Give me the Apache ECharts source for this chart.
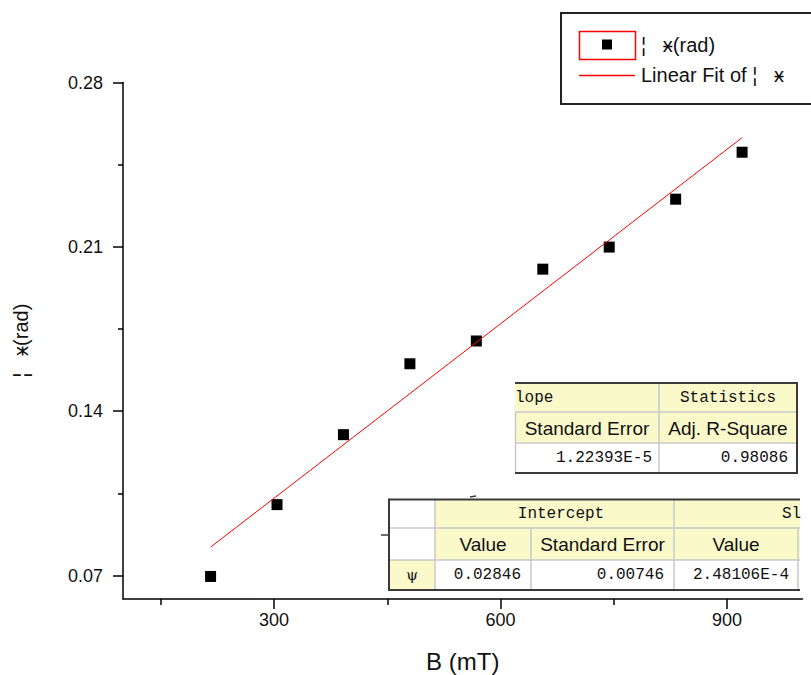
<!DOCTYPE html>
<html><head><meta charset="utf-8">
<script src="https://cdn.jsdelivr.net/npm/echarts@6/dist/echarts.min.js"></script>
<style>html,body{margin:0;padding:0;background:#fff}#c{width:811px;height:675px}</style>
</head><body><div id="c"></div>
<script>
// ---- data ----
const fieldB = [216, 304, 392, 480, 568, 656, 744, 832, 920];
const phi = [0.0696, 0.1002, 0.1300, 0.1602, 0.1699, 0.2005, 0.2099, 0.2303, 0.2503];
const fitB = [216, 920];
const fitPhi = [0.0821, 0.2565];
const xMajorTicks = [300, 600, 900];
const xMinorTicks = [150, 450, 750];
const yMajorTicks = [0.07, 0.14, 0.21, 0.28];
const yMinorTicks = [0.105, 0.175, 0.245];
const seriesNames = ['¦   ӿ(rad)', 'Linear Fit of ¦   ӿ'];
const xTitle = 'B (mT)';
const yTitle = '¦   ӿ(rad)';
const statsHeader = ['lope', 'Statistics'];
const statsSub = ['Standard Error', 'Adj. R-Square'];
const statsValues = ['1.22393E-5', '0.98086'];
const paramHeader = ['Intercept', 'Sl'];
const paramSub = ['Value', 'Standard Error', 'Value'];
const paramRowLabel = 'ψ';
const paramValues = ['0.02846', '0.00746', '2.48106E-4'];

const SANS = '"Liberation Sans", Arial, sans-serif';
const MONO = '"Liberation Mono", "DejaVu Sans Mono", monospace';
const TXT = '#111';
const YEL = '#f9f9c9';
const LIGHT = '#c8c8c8';
const DARK = '#3a3a3a';

const chart = echarts.init(document.getElementById('c'), null, {renderer: 'svg'});

function rect(x, y, w, h, fill, z) {
  return {type: 'rect', shape: {x, y, width: w, height: h}, style: {fill: fill, stroke: null}, z: z || 50, silent: true};
}
function line(x1, y1, x2, y2, color, w, z) {
  return {type: 'line', shape: {x1, y1, x2, y2}, style: {stroke: color, lineWidth: w}, z: z || 52, silent: true};
}
function text(t, x, y, align, font, size, color) {
  return {type: 'text', x: x, y: y, z: 55, silent: true,
    style: {text: t, x: 0, y: 0, align: align, verticalAlign: 'middle', fontFamily: font, fontSize: size, fill: color || TXT}};
}

const g = [];
// ---- legend ----
g.push({type: 'rect', shape: {x: 561, y: 13, width: 300, height: 91}, style: {fill: '#fff', stroke: '#222', lineWidth: 2}, z: 50, silent: true});
g.push({type: 'rect', shape: {x: 579.5, y: 31.5, width: 56, height: 28}, style: {fill: null, stroke: '#ff0000', lineWidth: 1.5}, z: 52, silent: true});
g.push({type: 'rect', shape: {x: 602, y: 39.5, width: 10, height: 10}, style: {fill: '#000'}, z: 52, silent: true});
g.push(line(579, 75.5, 635, 75.5, '#ff0000', 1.5));
g.push(text(seriesNames[0], 641, 45, 'left', SANS, 20));
g.push(text(seriesNames[1], 641, 75, 'left', SANS, 20));

// ---- upper statistics table ----
g.push(rect(515, 383, 282, 29, YEL));
g.push(rect(515, 412, 282, 31, YEL));
g.push(rect(515, 443, 282, 30, '#fff'));
g.push(line(515, 412, 797, 412, LIGHT, 1.5));
g.push(line(515, 443, 797, 443, LIGHT, 1.5));
g.push(line(659, 383, 659, 473, LIGHT, 1.5));
g.push(line(515.5, 412, 515.5, 473, LIGHT, 1.5));
g.push(line(515, 383, 797, 383, DARK, 2, 53));
g.push(line(797, 382, 797, 474, DARK, 2, 53));
g.push(line(515, 473, 797, 473, DARK, 2, 53));
g.push(text(statsHeader[0], 515, 397.5, 'left', MONO, 16));
g.push(text(statsHeader[1], 728, 397.5, 'center', MONO, 16));
g.push(text(statsSub[0], 587, 428, 'center', SANS, 19));
g.push(text(statsSub[1], 728, 428, 'center', SANS, 19));
g.push(text(statsValues[0], 652, 458, 'right', MONO, 16));
g.push(text(statsValues[1], 788, 458, 'right', MONO, 16));

// ---- lower parameter table ----
g.push(rect(389, 499.5, 46, 60.5, '#fff'));
g.push(rect(435, 499.5, 376, 60.5, YEL));
g.push(rect(389, 560, 46, 30, YEL));
g.push(rect(435, 560, 376, 30, '#fff'));
g.push(line(389, 528, 800, 528, LIGHT, 1.5));
g.push(line(389, 560, 800, 560, LIGHT, 1.5));
g.push(line(435, 499.5, 435, 590, LIGHT, 1.5));
g.push(line(531, 528, 531, 590, LIGHT, 1.5));
g.push(line(674, 499.5, 674, 590, LIGHT, 1.5));
g.push(line(798, 528, 798, 590, LIGHT, 1.5));
g.push(rect(800, 498, 11, 94, '#fff', 51));
g.push(line(389, 499.5, 800, 499.5, DARK, 2, 53));
g.push(line(389, 590, 800, 590, DARK, 2, 53));
g.push(line(389, 498.5, 389, 591, DARK, 2, 53));
g.push(line(381, 535, 389, 535, DARK, 1.5, 53));
g.push(line(470, 497, 476, 496, DARK, 1.5, 53));
g.push(text(paramHeader[0], 561, 514, 'center', MONO, 16));
g.push(text(paramHeader[1], 782, 514, 'left', MONO, 16));
g.push(text(paramSub[0], 483, 544, 'center', SANS, 19));
g.push(text(paramSub[1], 602.5, 544, 'center', SANS, 19));
g.push(text(paramSub[2], 736, 544, 'center', SANS, 19));
g.push(text(paramRowLabel, 412, 575, 'center', '"DejaVu Serif", serif', 15));
g.push(text(paramValues[0], 521, 575, 'right', MONO, 16));
g.push(text(paramValues[1], 664, 575, 'right', MONO, 16));
g.push(text(paramValues[2], 789, 575, 'right', MONO, 16));

const axisLineStyle = {color: '#000', width: 1.5};

chart.setOption({
  backgroundColor: '#fff',
  animation: false,
  grid: {left: 123, right: 8.5, top: 82.5, bottom: 76, containLabel: false, outerBoundsMode: 'none'},
  xAxis: [
    {type: 'value', min: 100, max: 1000, position: 'bottom',
      axisLine: {show: true, onZero: false, lineStyle: axisLineStyle},
      axisTick: {show: true, customValues: xMajorTicks, length: 10, lineStyle: axisLineStyle},
      axisLabel: {customValues: xMajorTicks, fontSize: 18, color: TXT, margin: 12, fontFamily: SANS},
      splitLine: {show: false},
      name: xTitle, nameLocation: 'middle', nameGap: 50,
      nameTextStyle: {fontSize: 24, color: TXT, fontFamily: SANS}},
    {type: 'value', min: 100, max: 1000, position: 'bottom',
      axisLine: {show: false, onZero: false},
      axisTick: {show: true, customValues: xMinorTicks, length: 6, lineStyle: axisLineStyle},
      axisLabel: {show: false}, splitLine: {show: false}}
  ],
  yAxis: [
    {type: 'value', min: 0.06, max: 0.28, position: 'left',
      axisLine: {show: true, onZero: false, lineStyle: axisLineStyle},
      axisTick: {show: true, customValues: yMajorTicks, length: 10, lineStyle: axisLineStyle},
      axisLabel: {customValues: yMajorTicks, fontSize: 18, color: TXT, margin: 20, fontFamily: SANS},
      splitLine: {show: false},
      name: yTitle, nameLocation: 'middle', nameGap: 92, nameRotate: 90,
      nameTextStyle: {fontSize: 20, color: TXT, fontFamily: SANS}},
    {type: 'value', min: 0.06, max: 0.28, position: 'left',
      axisLine: {show: false, onZero: false},
      axisTick: {show: true, customValues: yMinorTicks, length: 5, lineStyle: axisLineStyle},
      axisLabel: {show: false}, splitLine: {show: false}}
  ],
  series: [
    {name: seriesNames[0], type: 'scatter', xAxisIndex: 0, yAxisIndex: 0,
      symbol: 'rect', symbolSize: 11, itemStyle: {color: '#000', opacity: 1},
      data: fieldB.map((b, i) => [b, phi[i]]), z: 3},
    {name: seriesNames[1], type: 'line', xAxisIndex: 0, yAxisIndex: 0,
      showSymbol: false, symbol: 'none', lineStyle: {color: '#ff0000', width: 1},
      data: fitB.map((b, i) => [b, fitPhi[i]]), z: 4}
  ],
  graphic: g
});
</script></body></html>
